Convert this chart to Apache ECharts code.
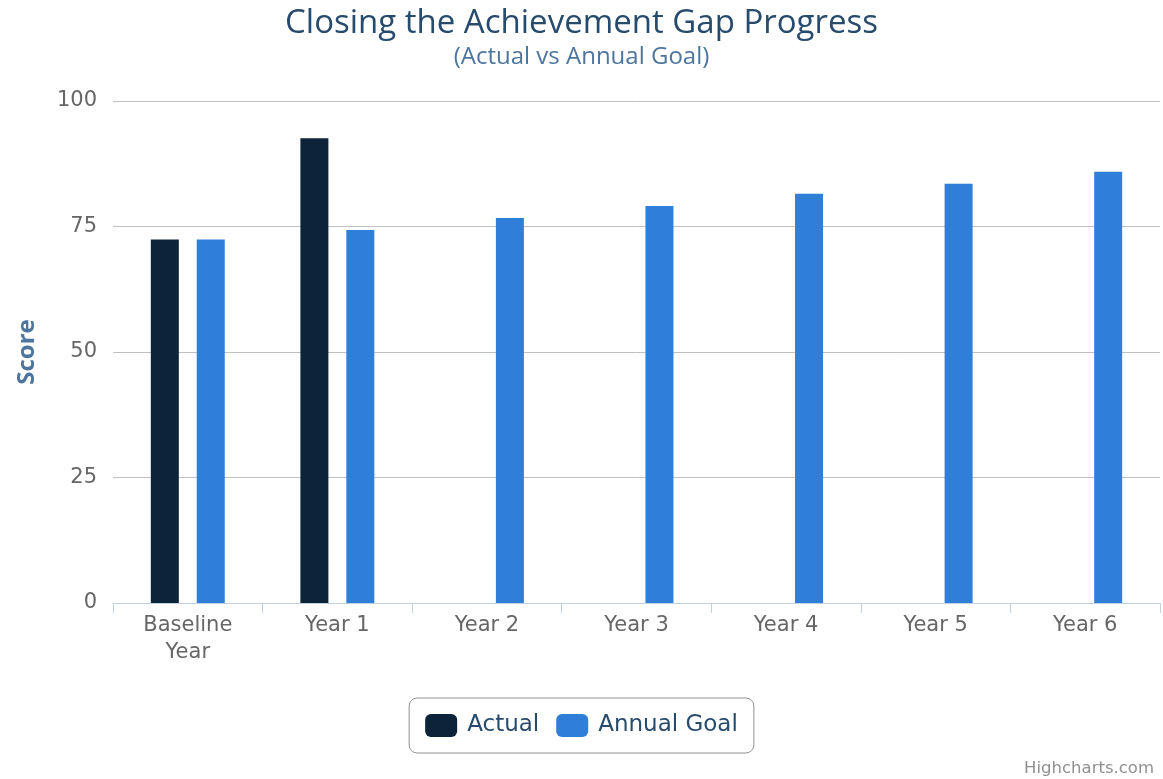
<!DOCTYPE html>
<html>
<head>
<meta charset="utf-8">
<script src="https://cdn.jsdelivr.net/npm/echarts@6/dist/echarts.min.js"></script>
<style>
html,body{margin:0;padding:0;background:#fff;}
#chart{width:1163px;height:779px;}
</style>
</head>
<body>
<div id="chart"></div>
<script>
var categories = ['Baseline\nYear', 'Year 1', 'Year 2', 'Year 3', 'Year 4', 'Year 5', 'Year 6'];
var actualValues = [72.4, 92.6, null, null, null, null, null];
var goalValues = [72.4, 74.3, 76.7, 79.1, 81.5, 83.5, 85.9];
var yTicks = [0, 25, 50, 75, 100];

var chart = echarts.init(document.getElementById('chart'));
var labelFont = '"DejaVu Sans", Verdana, sans-serif';
chart.setOption({
  animation: false,
  title: [
    {text: 'Closing the Achievement Gap Progress', left: 'center', top: 2,
     textStyle: {color: '#274b6d', fontSize: 33, fontWeight: 'normal', fontFamily: '"Open Sans", sans-serif'}},
    {text: '(Actual vs Annual Goal)', left: 'center', top: 40,
     textStyle: {color: '#4d759e', fontSize: 24, fontWeight: 'normal', fontFamily: '"Open Sans", sans-serif'}},
    {text: 'Highcharts.com', right: 4, bottom: -3,
     textStyle: {color: '#909090', fontSize: 16.5, fontWeight: 'normal', fontFamily: labelFont}}
  ],
  legend: {
    bottom: 26, left: 'center',
    data: ['Actual', 'Annual Goal'],
    icon: 'roundRect', itemWidth: 32, itemHeight: 23, itemGap: 17,
    borderColor: '#909090', borderWidth: 1, borderRadius: 8,
    padding: [16, 16, 16, 16],
    textStyle: {color: '#274b6d', fontSize: 23, fontFamily: labelFont, padding: [0, 0, 0, 5]}
  },
  grid: {left: 113, right: 3, top: 101, bottom: 176},
  xAxis: {
    type: 'category', data: categories,
    axisLine: {lineStyle: {color: '#c0d0e0'}},
    axisTick: {show: true, length: 10, lineStyle: {color: '#c0d0e0'}},
    axisLabel: {color: '#666666', fontSize: 21, fontFamily: labelFont, lineHeight: 27, margin: 9}
  },
  yAxis: {
    type: 'value', min: 0, max: 100, interval: 25,
    name: 'Score', nameLocation: 'middle', nameGap: 74, nameRotate: 90,
    nameTextStyle: {color: '#4d759e', fontSize: 24, fontWeight: 'bold', fontFamily: '"Open Sans", sans-serif'},
    axisLine: {show: false}, axisTick: {show: false},
    splitLine: {lineStyle: {color: '#c0c0c0'}},
    axisLabel: {color: '#666666', fontSize: 21, fontFamily: labelFont, margin: 16,
      formatter: function (v) { return yTicks.indexOf(v) >= 0 ? String(v) : ''; }}
  },
  series: [
    {name: 'Actual', type: 'bar', data: actualValues, barWidth: 28, barGap: '64%',
     itemStyle: {color: '#0d233a'}},
    {name: 'Annual Goal', type: 'bar', data: goalValues, barWidth: 28,
     itemStyle: {color: '#2f7ed8'}}
  ]
});
</script>
</body>
</html>
